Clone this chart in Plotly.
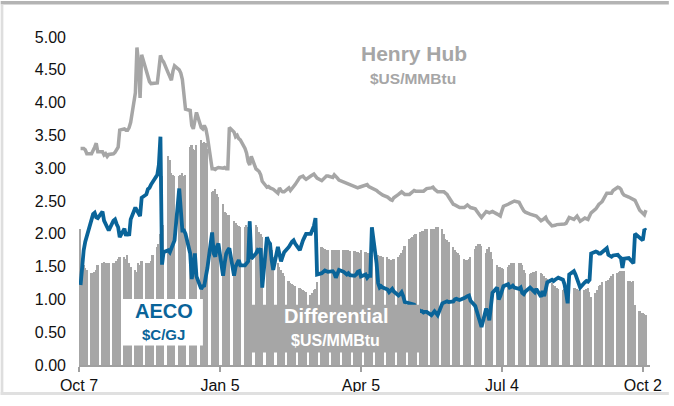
import pandas as pd
import plotly.graph_objects as go

# ---------------- data (business days, Oct 8 2018 .. Oct 4 2019) ----------------
dates = pd.bdate_range("2018-10-08", "2019-10-04")

henry_hub = [
    3.30, 3.30, 3.30, 3.28, 3.22,
    3.22, 3.26, 3.32, 3.38, 3.25,
    3.25, 3.20, 3.22, 3.18, 3.21,
    3.22, 3.24, 3.28, 3.32, 3.58,
    3.60, 3.58, 3.58, 3.62, 3.70,
    4.15, 4.84, 4.60, 4.07, 4.73,
    4.48, 4.40, 4.32, 4.29, 4.29,
    4.30, 4.50, 4.72, 4.65, 4.62,
    4.45, 4.40, 4.34, 4.48, 4.56,
    4.50, 4.45, 4.35, 4.15, 3.90,
    3.88, 3.65, 3.60, 3.75, 3.85,
    3.62, 3.60, 3.65, 3.60, 3.48,
    2.99, 2.99, 2.98, 3.00, 3.01,
    3.00, 3.01, 2.99, 2.99, 3.62,
    3.55, 3.48, 3.50, 3.45, 3.43,
    3.30, 3.23, 3.10, 3.05, 3.18,
    2.99, 2.97, 2.95, 2.90, 2.80,
    2.71, 2.72, 2.70, 2.69, 2.68,
    2.62, 2.70, 2.66, 2.64, 2.64,
    2.70, 2.66, 2.69, 2.70, 2.75,
    2.86, 2.87, 2.88, 2.85, 2.83,
    2.88, 2.90, 2.91, 2.88, 2.85,
    2.81, 2.84, 2.86, 2.88, 2.88,
    2.86, 2.90, 2.88, 2.85, 2.82,
    2.79, 2.78, 2.77, 2.76, 2.75,
    2.73, 2.71, 2.70, 2.71, 2.72,
    2.74, 2.75, 2.72, 2.71, 2.70,
    2.66, 2.64, 2.62, 2.60, 2.59,
    2.56, 2.53, 2.52, 2.51, 2.55,
    2.60, 2.63, 2.64, 2.62, 2.60,
    2.60, 2.62, 2.64, 2.66, 2.65,
    2.65, 2.66, 2.65, 2.67, 2.69,
    2.70, 2.71, 2.68, 2.66, 2.64,
    2.64, 2.64, 2.62, 2.60, 2.56,
    2.45, 2.44, 2.43, 2.42, 2.40,
    2.40, 2.42, 2.44, 2.42, 2.40,
    2.38, 2.34, 2.32, 2.28, 2.25,
    2.34, 2.33, 2.32, 2.33, 2.34,
    2.30, 2.28, 2.27, 2.35, 2.42,
    2.45, 2.46, 2.47, 2.48, 2.50,
    2.48, 2.42, 2.39, 2.35, 2.33,
    2.30, 2.29, 2.28, 2.27, 2.27,
    2.20, 2.21, 2.23, 2.25, 2.20,
    2.12, 2.12, 2.13, 2.14, 2.14,
    2.15, 2.15, 2.16, 2.22, 2.25,
    2.22, 2.25, 2.27, 2.23, 2.19,
    2.24, 2.23, 2.22, 2.27, 2.32,
    2.38, 2.43, 2.45, 2.47, 2.49,
    2.62, 2.62, 2.61, 2.62, 2.66,
    2.71, 2.70, 2.68, 2.62, 2.59,
    2.56, 2.55, 2.54, 2.52, 2.51,
    2.36, 2.33, 2.30, 2.29, 2.36,
]

aeco = [
    1.22, 1.55, 1.75, 1.88, 1.97,
    2.25, 2.30, 2.32, 2.25, 2.24,
    2.34, 2.20, 2.14, 2.08, 2.05,
    2.20, 2.22, 2.15, 2.10, 1.95,
    2.08, 1.97, 2.02, 1.97, 2.22,
    2.40, 2.35, 2.30, 2.27, 2.55,
    2.60, 2.68, 2.70, 2.75, 2.79,
    2.90, 3.05, 3.48, 1.53, 1.72,
    1.75, 1.72, 1.78, 1.85, 1.90,
    2.69, 2.30, 2.05, 2.05, 2.00,
    1.70, 1.31, 1.50, 1.70, 1.35,
    1.16, 1.20, 1.21, 1.35, 1.48,
    2.02, 1.70, 1.65, 1.80, 1.85,
    1.36, 1.55, 1.70, 1.75, 1.78,
    1.36, 1.50, 1.55, 1.60, 1.52,
    1.52, 1.55, 1.58, 2.19, 1.62,
    1.70, 1.75, 1.73, 1.78, 1.18,
    1.95, 1.88, 1.85, 1.60, 1.45,
    1.80, 1.70, 1.58, 1.65, 1.72,
    1.80, 1.85, 1.88, 1.90, 1.85,
    1.75, 1.85, 1.90, 1.95, 2.00,
    2.00, 2.05, 2.12, 2.24, 1.38,
    1.40, 1.42, 1.44, 1.43, 1.42,
    1.43, 1.40, 1.33, 1.40, 1.45,
    1.42, 1.40, 1.38, 1.40, 1.37,
    1.36, 1.38, 1.42, 1.43, 1.35,
    1.38, 1.33, 1.36, 1.36, 2.10,
    1.55, 1.25, 1.18, 1.20, 1.18,
    1.15, 1.11, 1.14, 1.16, 1.12,
    1.06, 1.08, 1.11, 1.05, 0.96,
    0.94, 0.93, 0.93, 0.92, 0.88,
    0.82, 0.82, 0.80, 0.81, 0.81,
    0.76, 0.80, 0.82, 0.79, 0.76,
    0.94, 0.95, 0.96, 0.97, 0.96,
    0.97, 1.00, 1.01, 1.00, 0.99,
    1.02, 1.04, 1.05, 1.06, 0.98,
    0.90, 0.82, 0.74, 0.68, 0.58,
    0.86, 0.80, 0.68, 0.95, 1.10,
    1.18, 1.00, 1.05, 1.11, 1.20,
    1.23, 1.18, 1.19, 1.21, 1.18,
    1.16, 1.18, 1.10, 1.08, 1.12,
    1.18, 1.16, 1.14, 1.11, 1.16,
    1.04, 1.13, 1.05, 1.15, 1.26,
    1.30, 1.28, 1.30, 1.31, 1.33,
    1.30, 1.23, 1.10, 0.94, 1.38,
    1.43, 1.38, 1.31, 1.25, 1.18,
    1.26, 1.28, 1.27, 1.30, 1.70,
    1.73, 1.72, 1.70, 1.70, 1.72,
    1.78, 1.68, 1.66, 1.65, 1.67,
    1.68, 1.65, 1.63, 1.48, 1.62,
    1.63, 1.60, 1.58, 1.55, 2.00,
    1.95, 1.92, 1.90, 2.07, 2.05,
]

differential = [
    2.07, 1.62, 1.52, 1.48, 1.45,
    1.40, 1.40, 1.42, 1.45, 1.52,
    1.55, 1.57, 1.55, 1.55, 1.55,
    1.55, 1.55, 1.58, 1.62, 1.64,
    1.65, 1.62, 1.68, 1.55, 1.50,
    1.45, 1.42, 1.55, 1.53, 1.58,
    1.55, 1.55, 1.55, 1.58, 1.68,
    1.80, 1.85, 2.00, 2.88, 2.14,
    3.18, 3.13, 2.93, 2.90, 2.88,
    2.88, 2.90, 2.92, 2.88, 2.90,
    3.33, 3.35, 3.30, 3.28, 3.35,
    3.43, 3.38, 3.40, 3.38, 3.30,
    2.64, 2.66, 2.69, 2.60, 2.56,
    2.45, 2.34, 2.32, 2.29, 2.29,
    2.19, 2.16, 2.14, 2.12, 2.10,
    2.10, 2.14, 2.10, 2.19, 2.05,
    2.14, 2.10, 2.02, 2.00, 1.95,
    1.95, 1.90, 1.80, 1.75, 1.65,
    1.55, 1.50, 1.45, 1.40, 1.35,
    1.28, 1.25, 1.23, 1.22, 1.21,
    1.18, 1.16, 1.15, 1.13, 1.11,
    1.06, 1.10, 1.14, 1.16, 1.26,
    1.80, 1.78, 1.77, 1.76, 1.75,
    1.76, 1.75, 1.75, 1.75, 1.75,
    1.75, 1.76, 1.75, 1.75, 1.74,
    1.74, 1.73, 1.72, 1.70, 1.75,
    1.72, 1.70, 1.70, 1.68, 1.68,
    1.70, 1.68, 1.66, 1.66, 1.64,
    1.65, 1.62, 1.60, 1.60, 1.62,
    1.65, 1.68, 1.70, 1.75, 1.82,
    1.92, 1.94, 1.95, 1.98, 2.00,
    2.02, 2.04, 2.05, 2.07, 2.07,
    2.07, 2.08, 2.07, 2.10, 2.10,
    2.07, 2.00, 1.92, 1.90, 1.87,
    1.80, 1.75, 1.72, 1.70, 1.68,
    1.62, 1.60, 1.60, 1.62, 1.65,
    1.77, 1.82, 1.84, 1.85, 1.82,
    1.70, 1.77, 1.80, 1.72, 1.62,
    1.52, 1.50, 1.50, 1.48, 1.46,
    1.50, 1.52, 1.55, 1.55, 1.55,
    1.56, 1.55, 1.52, 1.45, 1.40,
    1.38, 1.40, 1.42, 1.42, 1.43,
    1.40, 1.38, 1.36, 1.33, 1.31,
    1.25, 1.22, 1.20, 1.18, 1.16,
    1.15, 1.16, 1.16, 1.14, 1.15,
    1.17, 1.17, 1.16, 1.15, 1.14,
    1.15, 1.16, 1.18, 1.12, 1.04,
    1.10, 1.15, 1.20, 1.22, 1.26,
    1.28, 1.30, 1.33, 1.36, 1.38,
    1.40, 1.42, 1.43, 1.43, 1.43,
    1.28, 1.28, 1.27, 1.28, 0.92,
    0.82, 0.80, 0.79, 0.78, 0.76,
]

tick_dates = ["2018-10-07", "2019-01-05", "2019-04-05", "2019-07-04", "2019-10-02"]
tick_labels = ["Oct 7", "Jan 5", "Apr 5", "Jul 4", "Oct 2"]
y_ticks = [0, 0.5, 1, 1.5, 2, 2.5, 3, 3.5, 4, 4.5, 5]

# ---------------- styling ----------------
GRAY = "#a6a6a6"
BLUE = "#0a6499"
FONT = "Liberation Sans, Arial, sans-serif"
W, H = 674, 406
ML, MR, MT, MB = 79, 19, 37, 31
PW, PH = W - ML - MR, H - MT - MB


def px(x):
    return (x - ML) / PW


def py(y):
    return (H - MB - y) / PH


fig = go.Figure()
fig.add_trace(go.Bar(x=dates, y=differential, marker=dict(color=GRAY, line=dict(width=0)),
                     width=86400000 * 1.15, name="Differential"))
fig.add_trace(go.Scatter(x=dates, y=henry_hub, mode="lines",
                         line=dict(color=GRAY, width=3.5), name="Henry Hub"))
fig.add_trace(go.Scatter(x=dates, y=aeco, mode="lines",
                         line=dict(color=BLUE, width=3.8), name="AECO"))

shapes = [
    # frame strips
    dict(type="rect", xref="paper", yref="paper", x0=px(0), x1=px(W), y0=py(3.5), y1=py(0),
         fillcolor="#b4b4b4", line=dict(width=0), layer="above"),
    dict(type="rect", xref="paper", yref="paper", x0=px(0), x1=px(2.7), y0=py(H), y1=py(3.5),
         fillcolor="#dedede", line=dict(width=0), layer="above"),
    dict(type="rect", xref="paper", yref="paper", x0=px(0), x1=px(W), y0=py(H), y1=py(402.7),
         fillcolor="#e0e0e0", line=dict(width=0), layer="above"),
    # label boxes
    dict(type="rect", xref="paper", yref="paper", x0=px(123), x1=px(204), y0=py(355), y1=py(307),
         fillcolor="white", line=dict(width=0), layer="above"),
    dict(type="rect", xref="paper", yref="paper", x0=px(252), x1=px(423), y0=py(362), y1=py(313),
         fillcolor=GRAY, line=dict(width=0), layer="above"),
]


def ann(text, x, y, size, color):
    return dict(text=f"<b>{text}</b>", xref="paper", yref="paper", x=px(x), y=py(y),
                xanchor="center", yanchor="middle", showarrow=False,
                font=dict(family=FONT, size=size, color=color))


annotations = [
    ann("Henry Hub", 417, 54, 21, GRAY),
    ann("$US/MMBtu", 416, 80, 15.5, GRAY),
    ann("AECO", 165, 319, 20, BLUE),
    ann("$C/GJ", 164, 344, 15, BLUE),
    ann("Differential", 338, 325, 20, "white"),
    ann("$US/MMBtu", 338, 350, 16, "white"),
]

fig.update_layout(
    width=W, height=H,
    margin=dict(l=ML, r=MR, t=MT, b=MB, pad=0),
    paper_bgcolor="white", plot_bgcolor="white",
    showlegend=False, bargap=0,
    font=dict(family=FONT, size=16, color="#111111"),
    shapes=shapes, annotations=annotations,
    xaxis=dict(type="date", range=["2018-10-07", "2019-10-06 14:00"],
               tickvals=tick_dates, ticktext=tick_labels,
               showline=True, linecolor="#a0a0a0", linewidth=1.5,
               ticks="outside", ticklen=5, tickcolor="#a0a0a0", tickwidth=1.5,
               showgrid=False, zeroline=False,
               tickfont=dict(family=FONT, size=16, color="#111111")),
    yaxis=dict(range=[0, 5], tickvals=y_ticks, tickformat=".2f",
               showline=False, showgrid=False, zeroline=False, ticks="",
               ticklabelstandoff=12,
               tickfont=dict(family=FONT, size=16, color="#111111")),
)

fig.write_html(
    "out.html",
    config={"displayModeBar": False},
    post_script="document.body.style.margin='0px';document.body.style.overflow='hidden';",
)
